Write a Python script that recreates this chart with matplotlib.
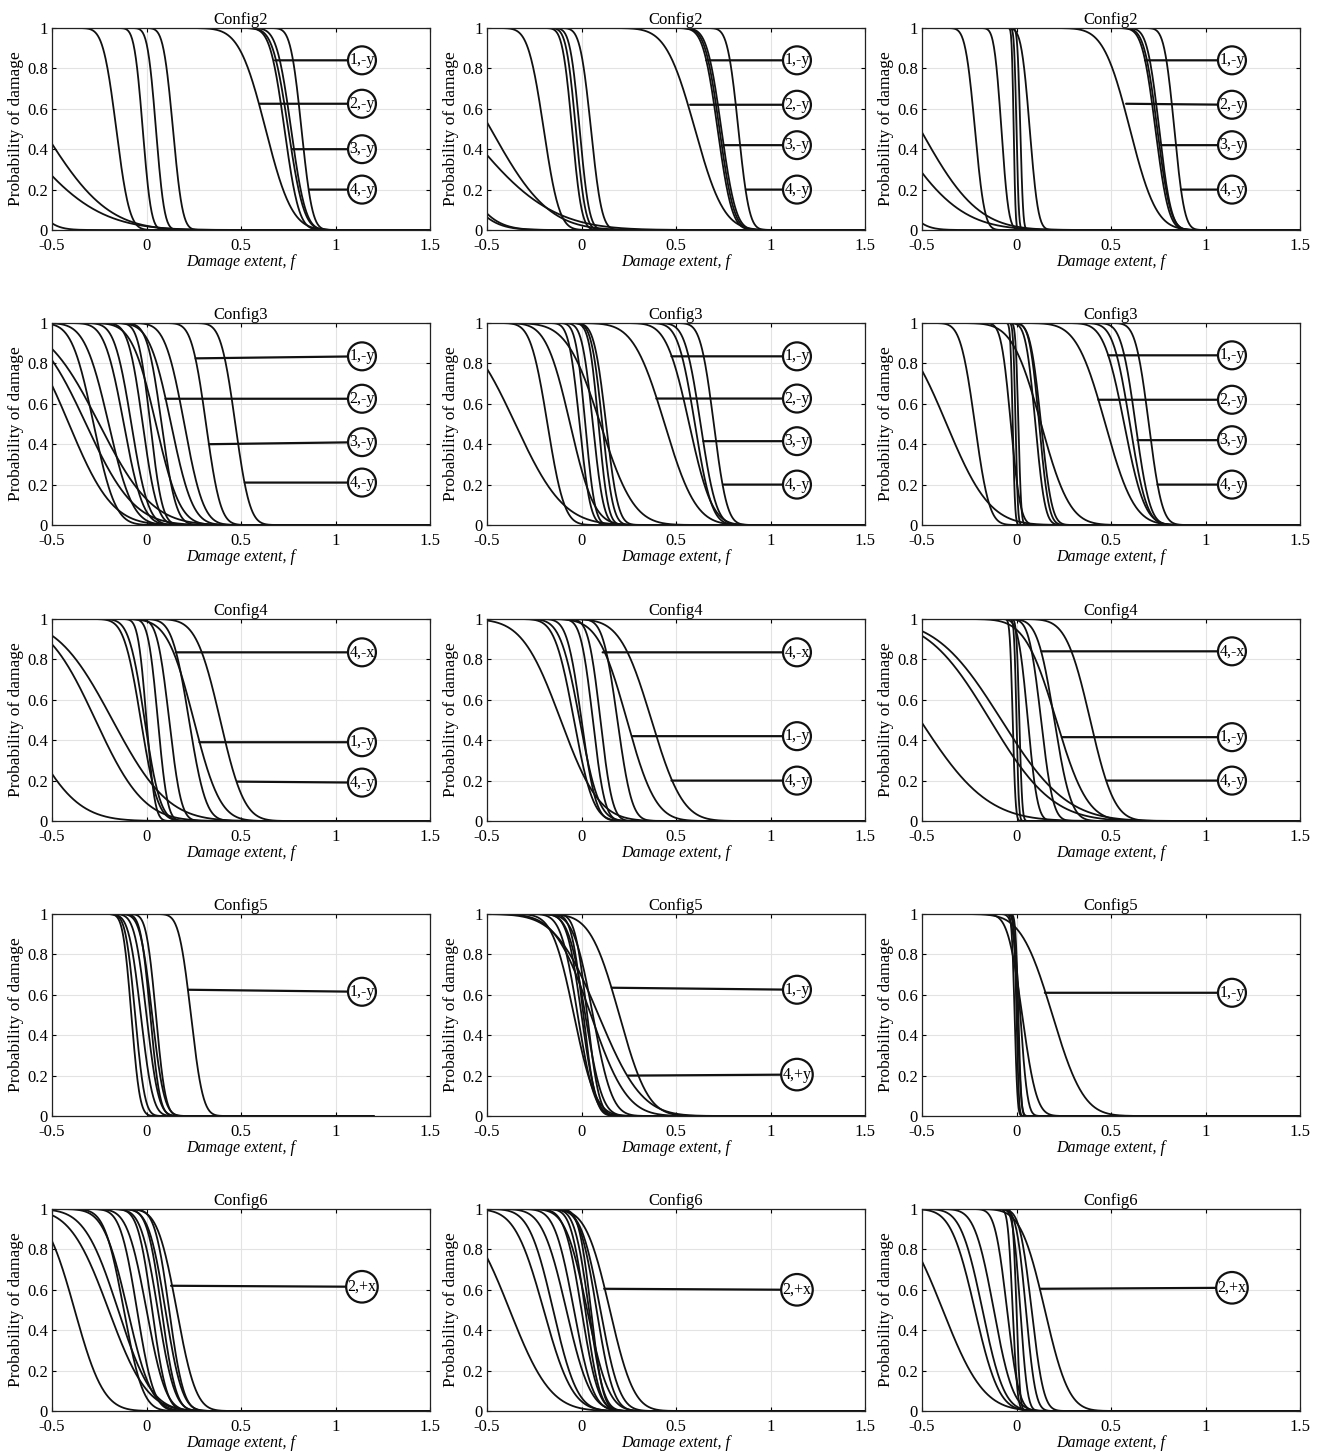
import numpy as np
import matplotlib.pyplot as plt
from math import erfc, sqrt

# fragility curves: (median f, spread) per curve
cfg2_a = [(-0.55, 0.27), (-0.71, 0.34), (-0.72, 0.12), (-0.16, 0.055), (-0.02, 0.035),
          (0.05, 0.035), (0.14, 0.04), (0.63, 0.11), (0.73, 0.06), (0.75, 0.065),
          (0.765, 0.06), (0.82, 0.045)]
cfg2_b = [(-0.48, 0.24), (-0.615, 0.35), (-0.73, 0.165), (-0.76, 0.17), (-0.2, 0.065),
          (-0.05, 0.04), (-0.03, 0.04), (-0.01, 0.04), (0.05, 0.045), (0.6, 0.12),
          (0.72, 0.06), (0.73, 0.06), (0.74, 0.06), (0.83, 0.045)]
cfg2_c = [(-0.51, 0.24), (-0.66, 0.28), (-0.72, 0.12), (-0.22, 0.04), (-0.08, 0.03),
          (-0.015, 0.008), (0.0, 0.01), (0.02, 0.012), (0.07, 0.035), (0.6, 0.11),
          (0.735, 0.055), (0.745, 0.055), (0.755, 0.05), (0.835, 0.042)]

cfg3_a = [(-0.41, 0.18), (-0.32, 0.20), (-0.25, 0.22), (-0.28, 0.09), (-0.2, 0.1),
          (-0.12, 0.08), (-0.08, 0.07), (-0.02, 0.06), (0.02, 0.05), (0.05, 0.10),
          (0.08, 0.06), (0.13, 0.09), (0.2, 0.08), (0.315, 0.06), (0.47, 0.06)]
cfg3_b = [(-0.35, 0.2), (-0.18, 0.07), (-0.06, 0.1), (0.1, 0.14), (-0.01, 0.045),
          (0.02, 0.04), (0.06, 0.045), (0.09, 0.04), (0.11, 0.045), (0.13, 0.05),
          (0.44, 0.13), (0.57, 0.095), (0.60, 0.07), (0.63, 0.065), (0.70, 0.055)]
cfg3_c = [(-0.37, 0.18), (-0.22, 0.06), (-0.03, 0.04), (-0.02, 0.01), (-0.005, 0.01),
          (0.01, 0.012), (0.13, 0.12), (0.1, 0.04), (0.12, 0.04), (0.13, 0.045),
          (0.47, 0.12), (0.57, 0.085), (0.6, 0.07), (0.63, 0.06), (0.70, 0.055)]

cfg4_a = [(-0.66, 0.22), (-0.27, 0.2), (-0.18, 0.23), (-0.03, 0.07), (-0.01, 0.065),
          (0.0, 0.035), (0.06, 0.04), (0.12, 0.05), (0.225, 0.07), (0.25, 0.11), (0.39, 0.1)]
cfg4_b = [(-0.11, 0.16), (-0.04, 0.08), (-0.01, 0.08), (0.0, 0.06), (0.06, 0.05),
          (0.1, 0.05), (0.19, 0.06), (0.24, 0.12), (0.37, 0.13)]
cfg4_c = [(-0.51, 0.28), (-0.14, 0.26), (-0.08, 0.27), (-0.02, 0.012), (0.0, 0.01),
          (0.015, 0.012), (0.06, 0.04), (0.13, 0.05), (0.2, 0.07), (0.21, 0.13), (0.39, 0.1)]

cfg5_a = [(-0.08, 0.035), (-0.06, 0.04), (-0.03, 0.05), (0.0, 0.05), (0.02, 0.04),
          (0.03, 0.05), (0.05, 0.04), (0.235, 0.05)]
cfg5_b = [(-0.04, 0.09), (-0.02, 0.07), (0.0, 0.06), (0.01, 0.05), (0.02, 0.07),
          (0.03, 0.05), (0.05, 0.15), (0.06, 0.08), (0.09, 0.18), (0.2, 0.12)]
cfg5_c = [(-0.01, 0.012), (0.0, 0.01), (0.005, 0.015), (0.01, 0.012), (0.02, 0.03),
          (0.03, 0.06), (0.19, 0.13)]

cfg6_a = [(-0.38, 0.12), (-0.2, 0.16), (-0.15, 0.14), (-0.12, 0.08), (-0.1, 0.1),
          (-0.05, 0.07), (0.0, 0.08), (0.03, 0.06), (0.06, 0.07), (0.08, 0.06),
          (0.1, 0.07), (0.12, 0.06), (0.16, 0.08)]
cfg6_b = [(-0.38, 0.17), (-0.2, 0.12), (-0.15, 0.1), (-0.08, 0.1), (-0.04, 0.08),
          (0.0, 0.07), (0.02, 0.06), (0.03, 0.09), (0.04, 0.06), (0.05, 0.05),
          (0.08, 0.07), (0.1, 0.08), (0.15, 0.1)]
cfg6_c = [(-0.39, 0.17), (-0.22, 0.1), (-0.18, 0.09), (-0.12, 0.08), (-0.05, 0.05),
          (-0.02, 0.02), (0.0, 0.015), (0.02, 0.03), (0.05, 0.04), (0.08, 0.05), (0.15, 0.1)]

# callouts: (label, f where the leader starts, prob at start, prob at circle)
ann2_a = [('1,-y', 0.68, 0.84, 0.84), ('2,-y', 0.60, 0.625, 0.625),
          ('3,-y', 0.77, 0.40, 0.40), ('4,-y', 0.86, 0.20, 0.20)]
ann2_b = [('1,-y', 0.66, 0.84, 0.84), ('2,-y', 0.575, 0.62, 0.62),
          ('3,-y', 0.75, 0.42, 0.42), ('4,-y', 0.87, 0.20, 0.20)]
ann2_c = [('1,-y', 0.68, 0.84, 0.84), ('2,-y', 0.58, 0.625, 0.62),
          ('3,-y', 0.765, 0.42, 0.42), ('4,-y', 0.87, 0.20, 0.20)]
ann3_a = [('1,-y', 0.26, 0.825, 0.835), ('2,-y', 0.10, 0.625, 0.625),
          ('3,-y', 0.33, 0.40, 0.41), ('4,-y', 0.52, 0.21, 0.21)]
ann3_b = [('1,-y', 0.476, 0.835, 0.835), ('2,-y', 0.396, 0.626, 0.626),
          ('3,-y', 0.645, 0.415, 0.415), ('4,-y', 0.75, 0.20, 0.20)]
ann3_c = [('1,-y', 0.486, 0.84, 0.84), ('2,-y', 0.433, 0.62, 0.62),
          ('3,-y', 0.64, 0.42, 0.42), ('4,-y', 0.746, 0.20, 0.20)]
ann4_a = [('4,-x', 0.155, 0.835, 0.835), ('1,-y', 0.28, 0.39, 0.39), ('4,-y', 0.48, 0.195, 0.19)]
ann4_b = [('4,-x', 0.112, 0.835, 0.835), ('1,-y', 0.27, 0.42, 0.42), ('4,-y', 0.476, 0.20, 0.20)]
ann4_c = [('4,-x', 0.132, 0.84, 0.84), ('1,-y', 0.24, 0.415, 0.415), ('4,-y', 0.477, 0.20, 0.20)]
ann5_a = [('1,-y', 0.22, 0.625, 0.615)]
ann5_b = [('1,-y', 0.16, 0.635, 0.625), ('4,+y', 0.245, 0.20, 0.205)]
ann5_c = [('1,-y', 0.15, 0.61, 0.61)]
ann6_a = [('2,+x', 0.13, 0.62, 0.615)]
ann6_b = [('2,+x', 0.12, 0.605, 0.60)]
ann6_c = [('2,+x', 0.125, 0.605, 0.61)]

titles = ['Config2', 'Config3', 'Config4', 'Config5', 'Config6']
x_ticks = [-0.5, 0, 0.5, 1, 1.5]
y_ticks = [0, 0.2, 0.4, 0.6, 0.8, 1]

curves = [[cfg2_a, cfg2_b, cfg2_c], [cfg3_a, cfg3_b, cfg3_c], [cfg4_a, cfg4_b, cfg4_c],
          [cfg5_a, cfg5_b, cfg5_c], [cfg6_a, cfg6_b, cfg6_c]]
notes = [[ann2_a, ann2_b, ann2_c], [ann3_a, ann3_b, ann3_c], [ann4_a, ann4_b, ann4_c],
         [ann5_a, ann5_b, ann5_c], [ann6_a, ann6_b, ann6_c]]

plt.rcParams['font.family'] = ['Liberation Serif', 'DejaVu Serif']
plt.rcParams['font.size'] = 11.5

W, H = 1325, 1456
fig = plt.figure(figsize=(W / 100, H / 100), dpi=100)

ncdf = np.vectorize(lambda z: 0.5 * erfc(z / sqrt(2)))
col_left = [52, 487, 922]
row_top = [28, 323, 619, 914, 1209]
aw, ah = 378, 202

for r in range(5):
    for c in range(3):
        ax = fig.add_axes([col_left[c] / W, 1 - (row_top[r] + ah) / H, aw / W, ah / H])
        # config5, first setting: curves only sampled on [-0.3, 1.2]
        lo, hi = (-0.3, 1.2) if (r == 3 and c == 0) else (-0.5, 1.5)
        x = np.linspace(lo, hi, 600)
        for mu, sd in curves[r][c]:
            ax.plot(x, ncdf((x - mu) / sd), color='#111111', lw=1.3)
        for lab, xs, ys, ye in notes[r][c]:
            ax.annotate(lab, xy=(xs, ys), xytext=(1.14, ye), ha='center', va='center',
                        fontsize=11.5,
                        bbox=dict(boxstyle='circle,pad=0.08', fc='white', ec='#111111', lw=1.6),
                        arrowprops=dict(arrowstyle='-', color='#111111', lw=1.6,
                                        shrinkA=0, shrinkB=0))
        ax.set_xlim(-0.5, 1.5)
        ax.set_ylim(0, 1)
        ax.set_xticks(x_ticks)
        ax.set_yticks(y_ticks)
        ax.set_xticklabels(['%g' % t for t in x_ticks])
        ax.set_yticklabels(['%g' % t for t in y_ticks])
        ax.tick_params(direction='in', length=3, top=True, right=True, labelsize=12)
        ax.tick_params(axis='x', pad=6)
        ax.tick_params(axis='y', pad=3)
        ax.grid(True, color='#e3e3e3', lw=0.8)
        ax.set_axisbelow(True)
        for s in ax.spines.values():
            s.set_color('#222222')
            s.set_linewidth(0.9)
        ax.set_title(titles[r], pad=3, fontsize=12)
        ax.set_xlabel('Damage extent, f', style='italic', fontsize=11.5)
        ax.set_ylabel('Probability of damage', fontsize=12.5)
        ax.xaxis.set_label_coords(0.5, -0.12)
        ax.yaxis.set_label_coords(-0.075, 0.5)

fig.savefig('out.png', dpi=100)
